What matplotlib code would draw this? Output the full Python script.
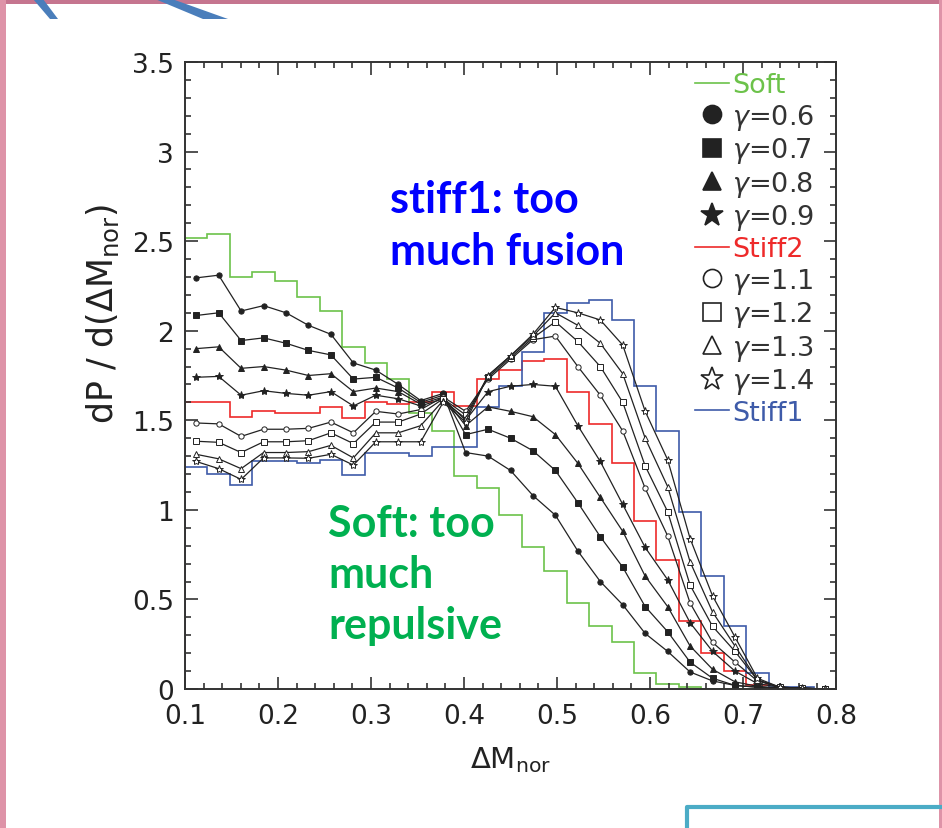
import numpy as np
import matplotlib
matplotlib.use("Agg")
import matplotlib.pyplot as plt
from matplotlib.lines import Line2D
from matplotlib.patches import Rectangle, Polygon
from matplotlib.ticker import MultipleLocator

plt.rcParams['font.family'] = ['DejaVu Sans']
plt.rcParams['mathtext.fontset'] = 'dejavusans'

# 29 bins from 0.1 to 0.8
edges = np.linspace(0.1, 0.8, 30)
centers = 0.5 * (edges[:-1] + edges[1:])

soft = [2.52, 2.54, 2.30, 2.33, 2.28, 2.19, 2.11, 1.91, 1.82, 1.73, 1.54, 1.44, 1.19, 1.12,
        0.97, 0.79, 0.66, 0.48, 0.35, 0.26, 0.09, 0.03, 0.01, 0, 0, 0, 0, 0, 0]
stiff2 = [1.60, 1.60, 1.52, 1.55, 1.54, 1.54, 1.575, 1.51, 1.60, 1.59, 1.60, 1.66, 1.58, 1.73,
          1.78, 1.83, 1.84, 1.66, 1.48, 1.26, 0.94, 0.72, 0.38, 0.20, 0.10, 0.02, 0, 0, 0]
stiff1 = [1.24, 1.20, 1.14, 1.27, 1.27, 1.26, 1.28, 1.195, 1.32, 1.32, 1.30, 1.35, 1.35, 1.575,
          1.69, 1.88, 2.10, 2.155, 2.17, 2.06, 1.69, 1.44, 0.99, 0.63, 0.35, 0.09, 0.01, 0.01, 0]

g06 = [2.295, 2.31, 2.11, 2.14, 2.10, 2.03, 1.98, 1.82, 1.78, 1.70, 1.61, 1.65, 1.32, 1.30,
       1.22, 1.08, 0.97, 0.77, 0.60, 0.47, 0.31, 0.21, 0.095, 0.045, 0.02, 0.01, 0.005, 0, 0]
g07 = [2.085, 2.10, 1.945, 1.96, 1.93, 1.89, 1.865, 1.73, 1.74, 1.68, 1.60, 1.64, 1.42, 1.45,
       1.40, 1.33, 1.22, 1.04, 0.85, 0.68, 0.46, 0.32, 0.15, 0.06, 0.02, 0.01, 0.005, 0, 0]
g08 = [1.90, 1.91, 1.79, 1.80, 1.78, 1.75, 1.76, 1.66, 1.68, 1.66, 1.59, 1.63, 1.47, 1.575,
       1.55, 1.52, 1.42, 1.26, 1.07, 0.88, 0.63, 0.46, 0.24, 0.11, 0.04, 0.015, 0.005, 0, 0]
g09 = [1.74, 1.745, 1.64, 1.665, 1.65, 1.64, 1.66, 1.58, 1.64, 1.62, 1.58, 1.62, 1.50, 1.66,
       1.69, 1.70, 1.69, 1.47, 1.27, 1.03, 0.79, 0.61, 0.37, 0.21, 0.10, 0.03, 0.01, 0, 0]
g11 = [1.485, 1.48, 1.41, 1.45, 1.45, 1.455, 1.49, 1.43, 1.55, 1.535, 1.56, 1.63, 1.55, 1.73,
       1.84, 1.95, 1.97, 1.80, 1.64, 1.44, 1.12, 0.855, 0.48, 0.26, 0.15, 0.045, 0.01, 0.005, 0]
g12 = [1.383, 1.377, 1.32, 1.38, 1.38, 1.386, 1.43, 1.37, 1.49, 1.49, 1.535, 1.62, 1.53, 1.74,
       1.85, 1.96, 2.05, 1.94, 1.80, 1.60, 1.245, 0.99, 0.58, 0.35, 0.21, 0.05, 0.01, 0.005, 0]
g13 = [1.31, 1.285, 1.23, 1.32, 1.32, 1.325, 1.36, 1.29, 1.43, 1.43, 1.47, 1.61, 1.51, 1.75,
       1.86, 1.97, 2.10, 2.03, 1.93, 1.76, 1.40, 1.13, 0.71, 0.43, 0.24, 0.05, 0.01, 0.005, 0]
g14 = [1.27, 1.23, 1.17, 1.29, 1.29, 1.288, 1.31, 1.25, 1.38, 1.38, 1.38, 1.60, 1.49, 1.75,
       1.86, 1.98, 2.13, 2.10, 2.06, 1.92, 1.55, 1.28, 0.84, 0.52, 0.29, 0.06, 0.01, 0.005, 0]

gamma_curves = [g06, g07, g08, g09, g11, g12, g13, g14]
gamma_labels = ['0.6', '0.7', '0.8', '0.9', '1.1', '1.2', '1.3', '1.4']
gamma_markers = ['o', 's', '^', '*', 'o', 's', '^', '*']
gamma_filled = [True, True, True, True, False, False, False, False]

c_soft = '#6cc24a'
c_stiff2 = '#ee2a2a'
c_stiff1 = '#3e5ba9'

fig = plt.figure(figsize=(9.42, 8.29), dpi=100)
ax = fig.add_axes([185 / 942, 1 - 690 / 829, (836 - 185) / 942, (690 - 63) / 829])

ax.stairs(soft, edges, color=c_soft, lw=1.2)
ax.stairs(stiff2, edges, color=c_stiff2, lw=1.2)
ax.stairs(stiff1, edges, color=c_stiff1, lw=1.2)

for vals, m, filled in zip(gamma_curves, gamma_markers, gamma_filled):
    ms = 6 if m == '*' else 3.8
    ax.plot(centers, vals, color='#222222', lw=0.9, marker=m, ms=ms,
            mfc='#222222' if filled else 'white', mec='#222222', mew=0.7)

ax.set_xlim(0.1, 0.8)
ax.set_ylim(0, 3.5)
ax.xaxis.set_minor_locator(MultipleLocator(0.02))
ax.yaxis.set_minor_locator(MultipleLocator(0.1))
ax.set_xticks(np.arange(0.1, 0.81, 0.1))
ax.set_xticklabels(['0.1', '0.2', '0.3', '0.4', '0.5', '0.6', '0.7', '0.8'])
ax.set_yticks(np.arange(0, 3.51, 0.5))
ax.set_yticklabels(['0', '0.5', '1', '1.5', '2', '2.5', '3', '3.5'])
ax.tick_params(which='both', direction='in', top=True, right=True, color='#333333', width=1.2)
ax.tick_params(which='major', length=9, labelsize=19, labelcolor='#222222')
ax.tick_params(which='minor', length=4.5)
ax.tick_params(axis='y', pad=8)
ax.tick_params(axis='x', pad=10)
for s in ax.spines.values():
    s.set_linewidth(1.4)
    s.set_color('#333333')

ax.set_xlabel(r'$\Delta$M$_{\mathregular{nor}}$', fontsize=21, labelpad=11, color='#222222')
ax.set_ylabel(r'dP / d($\Delta$M$_{\mathregular{nor}}$)', fontsize=25, color='#222222')
ax.yaxis.set_label_coords(-0.098, 0.6)

# legend
handles = [Line2D([], [], color=c_soft, lw=1.2)]
labels = ['Soft']
for lab, m, filled in zip(gamma_labels, gamma_markers, gamma_filled):
    if lab == '1.1':
        handles.append(Line2D([], [], color=c_stiff2, lw=1.2))
        labels.append('Stiff2')
    handles.append(Line2D([], [], ls='none', marker=m, ms=17 if m == '*' else 13,
                          mfc='#222222' if filled else 'white', mec='#222222', mew=1.2))
    labels.append(r'$\gamma$=' + lab)
handles.append(Line2D([], [], color=c_stiff1, lw=1.2))
labels.append('Stiff1')
lab_colors = [c_soft] + ['#333333'] * 4 + [c_stiff2] + ['#333333'] * 4 + [c_stiff1]
leg = ax.legend(handles, labels, loc='upper right', bbox_to_anchor=(0.988, 1.005), frameon=False,
                prop={'family': 'DejaVu Sans', 'size': 19.5}, handlelength=1.25,
                handletextpad=0.12, labelspacing=0.13, borderaxespad=0.1, labelcolor=lab_colors)

# annotations
ax.text(0.32, 2.59, 'stiff1: too\nmuch fusion', color='#0000ff', fontsize=31,
        family='Lato', weight='bold', va='center', ha='left', linespacing=1.38)
ax.text(0.254, 0.64, 'Soft: too\nmuch\nrepulsive', color='#00b050', fontsize=31,
        family='Lato', weight='bold', va='center', ha='left', linespacing=1.33)


# slide decorations around the picture
def px(x, y):
    return (x / 942, 1 - y / 829)


fig.add_artist(Rectangle(px(0, 5), 1, 5 / 829, transform=fig.transFigure, color='#c5758f', lw=0))
fig.add_artist(Rectangle(px(0, 829), 6 / 942, 1, transform=fig.transFigure, color='#de93a8', lw=0))
fig.add_artist(Rectangle(px(939, 829), 3 / 942, 1, transform=fig.transFigure, color='#de93a8', lw=0))
fig.add_artist(Polygon([px(33, 0), px(43, 0), px(58, 20), px(50, 20)],
                       transform=fig.transFigure, color='#4a7ebb', lw=0))
fig.add_artist(Polygon([px(155, 0), px(172, 0), px(228, 20), px(203, 20)],
                       transform=fig.transFigure, color='#4a7ebb', lw=0))
bx, by = zip(px(687, 835), px(687, 808), px(945, 808))
fig.add_artist(Line2D(bx, by, transform=fig.transFigure, color='#4bacc6', lw=3))

fig.savefig('out.png', dpi=100)
